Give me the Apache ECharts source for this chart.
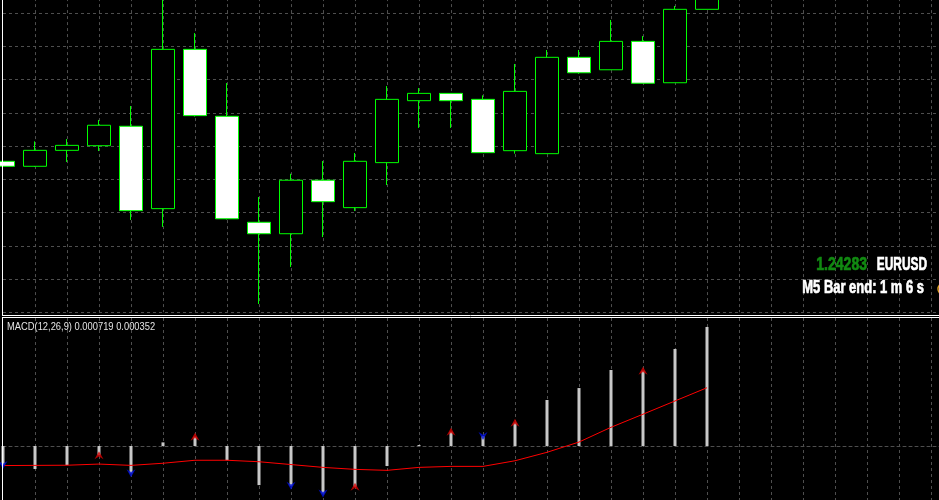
<!DOCTYPE html>
<html>
<head>
<meta charset="utf-8">
<script src="https://cdn.jsdelivr.net/npm/echarts@6/dist/echarts.min.js"></script>
<style>
html,body{margin:0;padding:0;background:#000;}
#chart{width:939px;height:500px;}
</style>
</head>
<body>
<div id="chart"></div>
<script>
// M5 bar times (last 8 slots are the empty chart shift area)
const categories = ['10:00','10:05','10:10','10:15','10:20','10:25','10:30','10:35','10:40','10:45','10:50','10:55',
  '11:00','11:05','11:10','11:15','11:20','11:25','11:30','11:35','11:40','11:45','11:50','11:55',
  '12:00','12:05','12:10','12:15','12:20','12:25','12:30'];
const opens  = [1.241909,1.241879,1.241975,1.242003,1.242120,1.241624,1.242583,1.242180,1.241542,1.241473,1.241795,1.241630,1.241901,1.242274,1.242318,1.242282,1.241973,1.241955,1.242535,1.242460,1.242631,1.242382,1.242824];
const closes = [1.241879,1.241975,1.242005,1.242126,1.241612,1.242583,1.242184,1.241563,1.241473,1.241795,1.241666,1.241909,1.242282,1.242318,1.242274,1.241961,1.242330,1.242535,1.242442,1.242631,1.242379,1.242824,1.242910];
const lows   = [1.241846,1.241875,1.241905,1.241971,1.241556,1.241514,1.242178,1.241559,1.241050,1.241273,1.241453,1.241610,1.241766,1.242110,1.242110,1.241961,1.241955,1.241955,1.242436,1.242460,1.242379,1.242382,1.242824];
const highs  = [1.241935,1.242029,1.242043,1.242158,1.242242,1.242892,1.242681,1.242380,1.241694,1.241834,1.241911,1.241959,1.242362,1.242350,1.242318,1.242306,1.242495,1.242579,1.242579,1.242760,1.242663,1.242844,1.242940];
// MACD(12,26,9) histogram (main) and signal line
const macdMain = [-0.000115,-0.000139,-0.000115,-0.000056,-0.000165,0.000022,0.000056,-0.000086,-0.000236,-0.000240,-0.000286,-0.000246,-0.000121,0.000006,0.000086,0.000060,0.000141,0.000278,0.000350,0.000459,0.000455,0.000586,0.000719];
const macdSignal = [-0.000118,-0.000117,-0.000116,-0.000109,-0.000117,-0.000104,-0.000086,-0.000086,-0.000095,-0.000112,-0.000129,-0.000141,-0.000147,-0.000129,-0.000123,-0.000123,-0.000089,-0.000038,0.000024,0.000113,0.000192,0.000272,0.000352];
// bars carrying arrow marks
const upArrowBars = [3,6,11,14,16,20];
const downArrowBars = [0,4,9,10,15];
// texts
const macdLabel = 'MACD(12,26,9) 0.000719 0.000352';
const bidText = '1.24283';
const symbolText = 'EURUSD';
const timerText = 'M5 Bar end: 1 m 6 s';

const gridColor = '#4e4e4e';
const candleData = opens.map((o, i) => [o, closes[i], lows[i], highs[i]]);
const upData = upArrowBars.map(i => [i, macdMain[i]]);
const downData = downArrowBars.map(i => [i, macdMain[i]]);

const chart = echarts.init(document.getElementById('chart'), null, {renderer: 'canvas'});
const xAxisBase = {
  type: 'category', data: categories, boundaryGap: false,
  axisLabel: {show: false}, axisTick: {show: false},
  splitLine: {show: true, interval: function (i) { return i > 0; }, lineStyle: {color: gridColor, type: [3, 3], width: 1}}
};
const bigFont = 'bold 18px "Liberation Sans", Arial, sans-serif';
const option = {
  backgroundColor: '#000000',
  animation: false,
  grid: [
    {left: 3, top: -19.92, width: 960, height: 332.22, outerBoundsMode: 'none', containLabel: false},
    {left: 3, top: 318, width: 960, height: 182, outerBoundsMode: 'none', containLabel: false}
  ],
  xAxis: [
    Object.assign({}, xAxisBase, {gridIndex: 0, axisLine: {show: false}}),
    Object.assign({}, xAxisBase, {gridIndex: 1, axisLine: {show: true, onZero: true, lineStyle: {color: gridColor, type: [3, 3], width: 1}}})
  ],
  yAxis: [
    {type: 'value', gridIndex: 0, min: 1.2410, max: 1.2430, interval: 0.0002, scale: true,
     axisLabel: {show: false}, axisLine: {show: false}, axisTick: {show: false},
     splitLine: {show: true, lineStyle: {color: gridColor, type: [3, 3], width: 1}}},
    {type: 'value', gridIndex: 1, min: -0.000326, max: 0.000773,
     axisLabel: {show: false}, axisLine: {show: false}, axisTick: {show: false}, splitLine: {show: false}}
  ],
  series: [
    {type: 'candlestick', xAxisIndex: 0, yAxisIndex: 0, data: candleData, barWidth: 23, silent: true,
     itemStyle: {color: '#000000', color0: '#ffffff', borderColor: '#00ff00', borderColor0: '#00ff00', borderWidth: 1}},
    {type: 'bar', xAxisIndex: 1, yAxisIndex: 1, data: macdMain, barWidth: 3, silent: true,
     itemStyle: {color: '#c8c8c8'}},
    {type: 'line', xAxisIndex: 1, yAxisIndex: 1, data: macdSignal, showSymbol: false, silent: true,
     lineStyle: {color: '#ff0000', width: 1}, z: 3},
    {type: 'scatter', xAxisIndex: 1, yAxisIndex: 1, data: upData, silent: true, z: 4,
     symbol: 'path://M5,0 L10,9 L5,6 L0,9 Z', symbolSize: [9, 8], itemStyle: {color: '#d80000'}},
    {type: 'scatter', xAxisIndex: 1, yAxisIndex: 1, data: downData, silent: true, z: 4,
     symbol: 'path://M0,0 L5,3 L10,0 L5,9 Z', symbolSize: [9, 8], itemStyle: {color: '#0010e0'}}
  ],
  graphic: [
    {type: 'line', silent: true, z: 10, shape: {x1: 2.5, y1: 0, x2: 2.5, y2: 315.5}, style: {stroke: '#ffffff', lineWidth: 1}},
    {type: 'line', silent: true, z: 10, shape: {x1: 2, y1: 315.5, x2: 939, y2: 315.5}, style: {stroke: '#ffffff', lineWidth: 1}},
    {type: 'line', silent: true, z: 10, shape: {x1: 2, y1: 317.5, x2: 939, y2: 317.5}, style: {stroke: '#ffffff', lineWidth: 1}},
    {type: 'line', silent: true, z: 10, shape: {x1: 2.5, y1: 317.5, x2: 2.5, y2: 500}, style: {stroke: '#ffffff', lineWidth: 1}},
    {type: 'text', silent: true, z: 10, x: 7, y: 326.5, scaleX: 0.85,
     style: {text: macdLabel, fill: '#e4e4e4', font: '11px "Liberation Sans", Arial, sans-serif', verticalAlign: 'middle', align: 'left'}},
    {type: 'text', silent: true, z: 10, x: 867, y: 264.7, scaleX: 0.78,
     style: {text: bidText, fill: '#118a11', stroke: '#118a11', lineWidth: 0.7, font: bigFont, verticalAlign: 'middle', align: 'right'}},
    {type: 'text', silent: true, z: 10, x: 927, y: 264.7, scaleX: 0.66,
     style: {text: symbolText, fill: '#ffffff', stroke: '#ffffff', lineWidth: 0.7, font: bigFont, verticalAlign: 'middle', align: 'right'}},
    {type: 'text', silent: true, z: 10, x: 924, y: 288.3, scaleX: 0.72,
     style: {text: timerText, fill: '#ffffff', stroke: '#ffffff', lineWidth: 0.7, font: bigFont, verticalAlign: 'middle', align: 'right'}},
    {type: 'circle', silent: true, z: 10, shape: {cx: 944, cy: 289, r: 6}, style: {fill: 'none', stroke: '#e0a020', lineWidth: 1.5}}
  ]
};
chart.setOption(option);
</script>
</body>
</html>
